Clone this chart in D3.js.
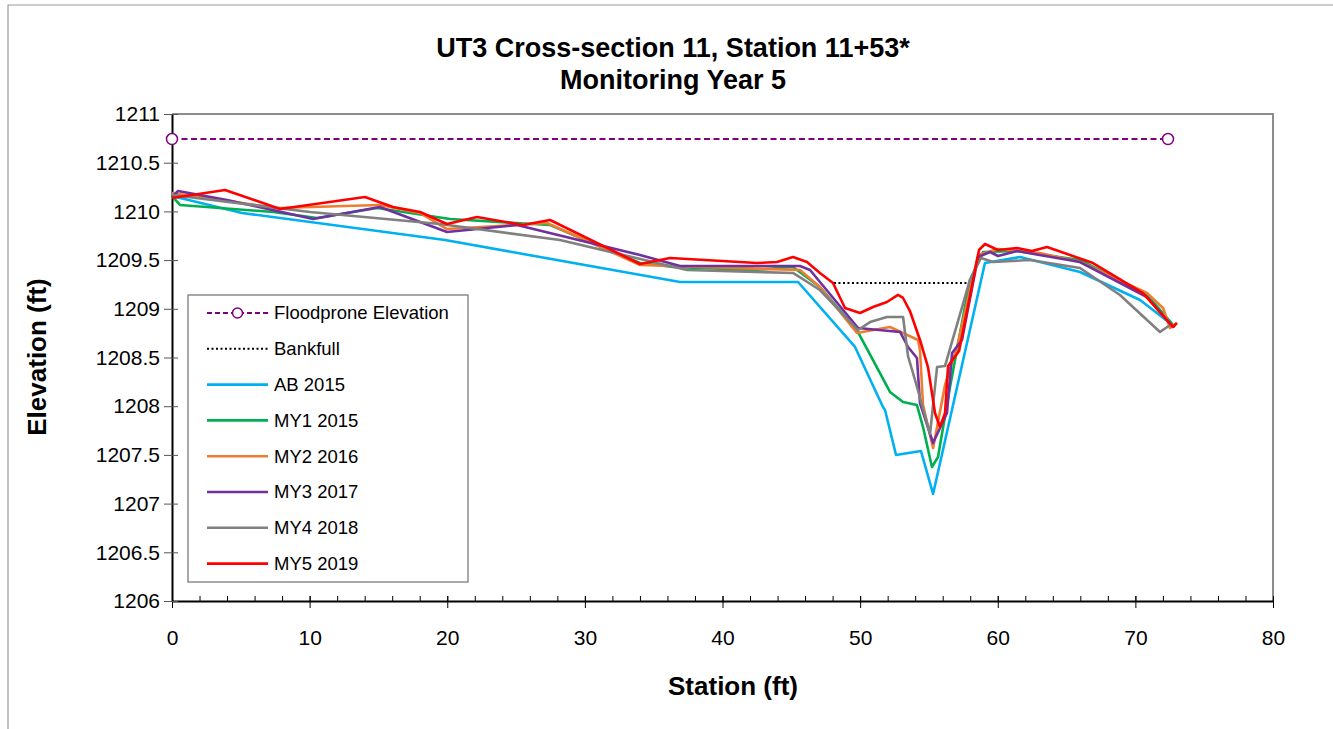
<!DOCTYPE html>
<html><head><meta charset="utf-8">
<script src="https://cdn.jsdelivr.net/npm/d3@7"></script>
<style>body{margin:0;background:#fff}svg{display:block;font-family:"Liberation Sans",Arial,sans-serif}</style>
</head><body><svg id="c" width="1333" height="729"></svg>
<script>
// ---------- data ----------
const titleLines = ["UT3 Cross-section 11, Station 11+53*", "Monitoring Year 5"];
const xTicks = [0, 10, 20, 30, 40, 50, 60, 70, 80];
const xMinorTicks = d3.range(0, 81, 2);
const yTicks = [1206, 1206.5, 1207, 1207.5, 1208, 1208.5, 1209, 1209.5, 1210, 1210.5, 1211];

const floodStation = [0, 72.37];
const floodElev = [1210.743, 1210.743];
const bankStation = [48.1, 58.0];
const bankElev = [1209.265, 1209.265];

const ab2015Station = [0, 5.09, 19.84, 36.91, 45.49, 49.63, 51.66, 51.81, 52.61, 54.42, 55.30, 59.07, 61.62, 65.98, 70.34, 72.88];
const ab2015Elev = [1210.158, 1209.984, 1209.706, 1209.275, 1209.275, 1208.608, 1207.992, 1207.961, 1207.499, 1207.540, 1207.099, 1209.470, 1209.532, 1209.378, 1209.090, 1208.813];

const my1Station = [0, 0.58, 7.34, 10.54, 14.90, 20.20, 27.47, 34.01, 36.40, 42.22, 45.12, 47.08, 49.77, 52.17, 53.12, 54.13, 54.57, 55.22, 55.66, 56.53, 57.98, 58.93, 61.40, 65.98, 70.84, 72.73];
const my1Elev = [1210.158, 1210.066, 1209.994, 1209.932, 1210.035, 1209.922, 1209.860, 1209.470, 1209.429, 1209.398, 1209.429, 1209.224, 1208.782, 1208.146, 1208.043, 1208.012, 1207.786, 1207.376, 1207.478, 1208.197, 1209.296, 1209.583, 1209.593, 1209.501, 1209.142, 1208.834];

const my2Station = [0, 7.63, 15.11, 18.02, 19.98, 27.25, 34.01, 36.40, 45.63, 47.08, 49.77, 52.17, 54.21, 54.35, 54.57, 55.30, 56.17, 57.04, 58.57, 60.02, 63.07, 65.98, 70.84, 72.01, 72.52, 73.02];
const my2Elev = [1210.189, 1210.035, 1210.066, 1209.984, 1209.819, 1209.881, 1209.450, 1209.439, 1209.398, 1209.224, 1208.752, 1208.813, 1208.680, 1208.577, 1208.012, 1207.571, 1208.218, 1208.608, 1209.552, 1209.614, 1209.573, 1209.480, 1209.162, 1209.008, 1208.803, 1208.854];

const my3Station = [0, 0.44, 4.00, 10.25, 15.11, 19.98, 25.07, 34.01, 36.91, 45.63, 46.36, 49.85, 52.90, 53.48, 54.13, 54.35, 55.30, 56.31, 56.68, 57.40, 58.57, 59.44, 60.02, 61.40, 65.98, 70.84, 72.73];
const my3Elev = [1210.148, 1210.209, 1210.117, 1209.922, 1210.045, 1209.789, 1209.860, 1209.552, 1209.439, 1209.439, 1209.398, 1208.803, 1208.762, 1208.608, 1208.495, 1208.033, 1207.622, 1207.930, 1208.546, 1208.680, 1209.532, 1209.583, 1209.542, 1209.593, 1209.480, 1209.121, 1208.813];

const my4Station = [0, 10.03, 19.47, 28.19, 37.42, 45.12, 47.08, 49.85, 50.72, 51.95, 53.12, 53.48, 53.99, 55.08, 55.59, 56.17, 57.98, 58.78, 59.66, 62.34, 65.98, 68.88, 71.79, 72.52];
const my4Elev = [1210.168, 1209.994, 1209.871, 1209.706, 1209.398, 1209.368, 1209.193, 1208.782, 1208.864, 1208.916, 1208.916, 1208.515, 1208.269, 1207.715, 1208.402, 1208.413, 1209.296, 1209.522, 1209.480, 1209.501, 1209.419, 1209.142, 1208.762, 1208.834];

const my5Station = [0, 3.85, 7.85, 14.02, 16.06, 18.02, 19.98, 22.16, 25.50, 27.47, 34.01, 36.19, 42.51, 43.96, 45.12, 46.14, 47.08, 48.03, 48.90, 49.99, 50.94, 51.95, 52.75, 53.12, 53.62, 54.35, 54.93, 55.44, 55.80, 56.17, 56.39, 57.19, 58.64, 59.07, 60.02, 61.40, 62.49, 63.58, 66.92, 70.55, 72.73, 73.02];
const my5Elev = [1210.138, 1210.220, 1210.025, 1210.148, 1210.045, 1209.994, 1209.871, 1209.943, 1209.860, 1209.912, 1209.460, 1209.522, 1209.470, 1209.480, 1209.532, 1209.480, 1209.368, 1209.265, 1209.008, 1208.957, 1209.018, 1209.070, 1209.142, 1209.111, 1208.977, 1208.680, 1208.402, 1207.930, 1207.786, 1207.930, 1208.413, 1208.567, 1209.604, 1209.665, 1209.604, 1209.624, 1209.593, 1209.634, 1209.470, 1209.162, 1208.813, 1208.854];

const seriesNames = ["AB 2015", "MY1 2015", "MY2 2016", "MY3 2017", "MY4 2018", "MY5 2019"];
const seriesColors = ["#00B0F0", "#00B050", "#ED7D31", "#7030A0", "#808080", "#FF0000"];
const seriesStations = [ab2015Station, my1Station, my2Station, my3Station, my4Station, my5Station];
const seriesElevs = [ab2015Elev, my1Elev, my2Elev, my3Elev, my4Elev, my5Elev];

// ---------- layout ----------
const svg = d3.select("#c");
const L = 172, R = 1273, T = 114, B = 601;
const FP = "#800080";
const x = d3.scaleLinear().domain([0, 80]).range([L, R]);
const y = d3.scaleLinear().domain([1206, 1211]).range([B, T]);
const zip = (a, b) => a.map((v, i) => [v, b[i]]);
const line = d3.line().x(d => x(d[0])).y(d => y(d[1]));

// outer chart border
svg.append("path").attr("d", "M8,729 L8,5 L1333,5").attr("fill", "none").attr("stroke", "#9a9a9a").attr("stroke-width", 1.2);

// title
svg.append("g").selectAll("text").data(titleLines).join("text")
  .attr("x", 673).attr("y", (d, i) => 57 + i * 32)
  .attr("text-anchor", "middle").attr("font-weight", "bold").attr("font-size", 27).text(d => d);

// plot frame top/right (gray)
svg.append("path").attr("d", `M${L},${T} L${R},${T} L${R},${B}`).attr("fill", "none").attr("stroke", "#8c8c8c").attr("stroke-width", 2);

// x axis minor ticks (inside)
const xMinor = svg.append("g").attr("transform", `translate(0,${B})`)
  .call(d3.axisBottom(x).tickValues(xMinorTicks).tickSize(-5).tickFormat(""));
xMinor.select(".domain").remove();
xMinor.selectAll("line").attr("stroke", "#000").attr("stroke-width", 1);

// x axis major
const xAx = svg.append("g").attr("transform", `translate(0,${B})`)
  .call(d3.axisBottom(x).tickValues(xTicks).tickSize(6).tickSizeOuter(0).tickPadding(23).tickFormat(d3.format("d")));
xAx.select(".domain").attr("stroke", "#000").attr("stroke-width", 2);
xAx.selectAll(".tick line").attr("y1", -5).attr("y2", 7).attr("stroke", "#000").attr("stroke-width", 1);
xAx.selectAll("text").attr("font-size", 21).attr("fill", "#000").attr("font-family", "Liberation Sans, Arial, sans-serif");

// y axis
const yAx = svg.append("g").attr("transform", `translate(${L},0)`)
  .call(d3.axisLeft(y).tickValues(yTicks).tickSize(8).tickSizeOuter(0).tickPadding(6)
    .tickFormat(d => Number.isInteger(d) ? String(d) : d.toFixed(1)));
yAx.select(".domain").attr("stroke", "#000").attr("stroke-width", 2);
yAx.selectAll(".tick line").attr("x1", -8).attr("x2", 6).attr("stroke", "#555").attr("stroke-width", 1);
yAx.selectAll("text").attr("font-size", 21).attr("fill", "#000").attr("x", -12).attr("font-family", "Liberation Sans, Arial, sans-serif");

// axis titles
svg.append("text").attr("x", 733).attr("y", 695).attr("text-anchor", "middle")
  .attr("font-weight", "bold").attr("font-size", 26).text("Station (ft)");
svg.append("text").attr("transform", "translate(46,357) rotate(-90)").attr("text-anchor", "middle")
  .attr("font-weight", "bold").attr("font-size", 26).text("Elevation (ft)");

// clip
svg.append("clipPath").attr("id", "pc").append("rect").attr("x", L - 8).attr("y", T - 8).attr("width", R - L + 16).attr("height", B - T + 16);
const plot = svg.append("g").attr("clip-path", "url(#pc)");

// floodprone
plot.append("path").attr("d", line(zip(floodStation, floodElev))).attr("fill", "none")
  .attr("stroke", FP).attr("stroke-width", 2).attr("stroke-dasharray", "6,3.5");
plot.selectAll("circle.fp").data(zip(floodStation, floodElev)).join("circle").attr("class", "fp")
  .attr("cx", d => x(d[0])).attr("cy", d => y(d[1])).attr("r", 5.5)
  .attr("fill", "#fff").attr("stroke", FP).attr("stroke-width", 1.5);

// bankfull
plot.append("path").attr("d", line(zip(bankStation, bankElev))).attr("fill", "none")
  .attr("stroke", "#000").attr("stroke-width", 2).attr("stroke-dasharray", "2,2.5");

// series
seriesNames.forEach((n, i) => {
  plot.append("path").attr("d", line(zip(seriesStations[i], seriesElevs[i]))).attr("fill", "none")
    .attr("stroke", seriesColors[i]).attr("stroke-width", 2.6).attr("stroke-linejoin", "round");
});

// legend
const lg = svg.append("g");
lg.append("rect").attr("x", 188).attr("y", 295).attr("width", 280).attr("height", 287)
  .attr("fill", "#fff").attr("stroke", "#8c8c8c").attr("stroke-width", 1.5);
const legendNames = ["Floodprone Elevation", "Bankfull"].concat(seriesNames);
legendNames.forEach((n, i) => {
  const yy = 313 + i * 35.8;
  const g = lg.append("g");
  if (i === 0) {
    g.append("line").attr("x1", 207).attr("x2", 268).attr("y1", yy).attr("y2", yy)
      .attr("stroke", FP).attr("stroke-width", 2).attr("stroke-dasharray", "5,3");
    g.append("circle").attr("cx", 237.5).attr("cy", yy).attr("r", 5).attr("fill", "#fff").attr("stroke", FP).attr("stroke-width", 1.5);
  } else if (i === 1) {
    g.append("line").attr("x1", 207).attr("x2", 268).attr("y1", yy).attr("y2", yy)
      .attr("stroke", "#000").attr("stroke-width", 2).attr("stroke-dasharray", "2,2.5");
  } else {
    g.append("line").attr("x1", 207).attr("x2", 268).attr("y1", yy).attr("y2", yy)
      .attr("stroke", seriesColors[i - 2]).attr("stroke-width", 2.6);
  }
  g.append("text").attr("x", 274).attr("y", yy).attr("dy", "0.35em").attr("font-size", 18.5).text(n);
});
</script></body></html>
